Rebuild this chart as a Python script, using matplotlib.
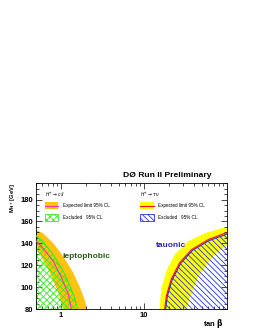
import matplotlib
matplotlib.use("Agg")
import matplotlib.pyplot as plt
import numpy as np
from matplotlib.patches import Rectangle, Polygon

plt.rcParams['font.family'] = ['Liberation Sans', 'DejaVu Sans']
plt.rcParams['hatch.linewidth'] = 0.6

# leptophobic (H+ -> c sbar) limit curves: tan(beta), M_H+ [GeV]
cs_band_out_tb = [0.46, 0.61, 0.81, 1.07, 1.41, 1.70, 1.95, 2.08]
cs_band_out_m = [153.8, 149.3, 140.3, 128.3, 113.3, 99.8, 87.8, 80]
cs_band_in_tb = [0.46, 0.61, 0.77, 0.93, 1.07]
cs_band_in_m = [140.3, 125.3, 110.3, 95.3, 80]
cs_exp_tb = [0.46, 0.61, 0.81, 1.02, 1.23, 1.34]
cs_exp_m = [145.3, 135.8, 123.8, 108.8, 93.8, 80]
cs_obs_tb = [0.46, 0.61, 0.81, 1.07, 1.29, 1.48, 1.59]
cs_obs_m = [149.3, 141.8, 129.8, 114.8, 101.3, 89.3, 80]

# tauonic (H+ -> tau nu) limit curves
tn_band_out_tb = [15.5, 16.2, 18.7, 23.5, 34.0, 54.5, 86.7, 100]
tn_band_out_m = [80, 98.3, 114.8, 129.8, 141.8, 149.3, 153.8, 155]
tn_band_in_tb = [32.5, 37.5, 45, 59.2, 78.5, 100]
tn_band_in_m = [80, 95.3, 108.8, 122.3, 132.8, 137.8]
tn_exp_tb = [17.8, 18.7, 21.4, 27.0, 37.5, 59.2, 95, 100]
tn_exp_m = [80, 92.3, 107.3, 122.3, 134.3, 143.3, 149.3, 149.6]
tn_obs_tb = [18.3, 19.2, 22.0, 27.8, 38.5, 61, 100]
tn_obs_m = [80, 92, 107, 121.8, 133.6, 142.5, 148.5]

yticks = [80, 100, 120, 140, 160, 180]
xticks = [1, 10]

orange = '#ffc20e'
yellow = '#ffff00'
pink = '#ff33aa'
green = '#33ee22'
blue = '#2233ee'

fig = plt.figure(figsize=(2.57, 3.33), dpi=100)
ax = fig.add_axes([0.139, 0.072, 0.744, 0.378])
ax.set_xscale('log')
ax.set_xlim(0.5, 100)
ax.set_ylim(80, 195)

# leptophobic
band = list(zip(cs_band_out_tb, cs_band_out_m)) + list(zip(cs_band_in_tb, cs_band_in_m))[::-1]
ax.add_patch(Polygon(band, closed=True, facecolor=orange, edgecolor='none', zorder=1))
excl = [(0.46, 80)] + list(zip(cs_obs_tb, cs_obs_m))
ax.add_patch(Polygon(excl, closed=True, facecolor='none', edgecolor=green, lw=0,
                     hatch='xxxxx', zorder=2))
ax.plot(cs_obs_tb, cs_obs_m, color=green, lw=0.8, zorder=3)
ax.plot(cs_exp_tb, cs_exp_m, color=pink, lw=0.8, zorder=3)

# tauonic
band = list(zip(tn_band_out_tb, tn_band_out_m)) + [(100, 80)]
ax.add_patch(Polygon(band, closed=True, facecolor=yellow, edgecolor='none', zorder=1))
inner = list(zip(tn_band_in_tb, tn_band_in_m)) + [(100, 80)]
ax.add_patch(Polygon(inner, closed=True, facecolor='white', edgecolor='none', zorder=1.5))
excl = list(zip(tn_obs_tb, tn_obs_m)) + [(100, 80)]
ax.add_patch(Polygon(excl, closed=True, facecolor='none', edgecolor=blue, lw=0,
                     hatch='\\\\\\\\\\\\', zorder=2))
ax.plot(tn_obs_tb, tn_obs_m, color=blue, lw=0.8, zorder=3)
ax.plot(tn_exp_tb, tn_exp_m, color='red', lw=0.8, zorder=3)

ax.text(1.05, 127, 'leptophobic', color='#2e5a1e', fontsize=6, fontweight='bold')
ax.text(14.0, 137, 'tauonic', color='#2a2aa8', fontsize=6, fontweight='bold')

# legends drawn by hand
tr = ax.transAxes
ax.text(0.049, 0.913, r'$H^{+}\rightarrow c\,\bar{s}$', transform=tr, fontsize=3.3, va='center')
ax.add_patch(Rectangle((0.049, 0.794), 0.07, 0.055, transform=tr, facecolor=orange, edgecolor='none'))
ax.plot([0.049, 0.119], [0.8215, 0.8215], transform=tr, color=pink, lw=0.8)
ax.add_patch(Rectangle((0.049, 0.698), 0.07, 0.056, transform=tr, facecolor='none', edgecolor=green,
                       lw=0.6, hatch='xxxxx'))
ax.text(0.142, 0.821, 'Expected limit 95% CL', transform=tr, fontsize=3.3, va='center')
ax.text(0.142, 0.726, 'Excluded   95% CL', transform=tr, fontsize=3.3, va='center')

ax.text(0.546, 0.913, r'$H^{+}\rightarrow \tau\,\nu$', transform=tr, fontsize=3.3, va='center')
ax.add_patch(Rectangle((0.546, 0.794), 0.07, 0.055, transform=tr, facecolor=yellow, edgecolor='none'))
ax.plot([0.546, 0.616], [0.8215, 0.8215], transform=tr, color='red', lw=0.8)
ax.add_patch(Rectangle((0.546, 0.698), 0.07, 0.056, transform=tr, facecolor='none', edgecolor=blue,
                       lw=0.6, hatch='\\\\\\\\\\\\'))
ax.text(0.639, 0.821, 'Expected limit 95% CL', transform=tr, fontsize=3.3, va='center')
ax.text(0.639, 0.726, 'Excluded   95% CL', transform=tr, fontsize=3.3, va='center')

ax.set_yticks(yticks)
ax.set_yticks(np.arange(80, 196, 5), minor=True)
ax.set_xticks(xticks)
ax.set_xticklabels(['1', '10'])
ax.tick_params(which='both', direction='in', top=True, right=True, width=0.5, labelsize=5.5, pad=2)
ax.tick_params(which='major', length=4)
ax.tick_params(which='minor', length=2)
for lab in ax.get_xticklabels() + ax.get_yticklabels():
    lab.set_fontweight('bold')
for s in ax.spines.values():
    s.set_linewidth(0.6)

fig.text(0.822, 0.473, 'DØ Run II Preliminary', ha='right', va='center', fontsize=6.1, fontweight='bold')
fig.text(0.047, 0.452, r'M$_{\mathbf{H^{+}}}$ [GeV]', rotation=90, ha='center', va='top',
         fontsize=4.2, fontweight='bold')
fig.text(0.87, 0.03, r'tan $\mathbf{\beta}$', ha='right', va='center', fontsize=5.5, fontweight='bold')

fig.savefig('out.png', dpi=100)
